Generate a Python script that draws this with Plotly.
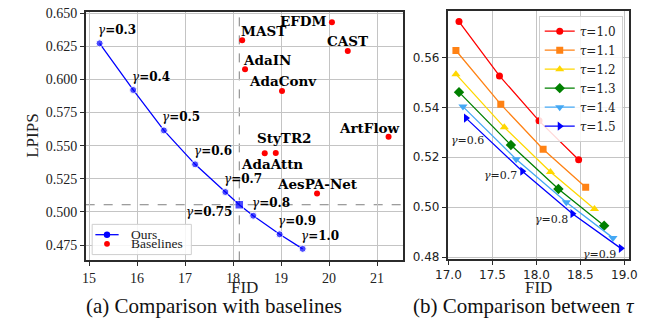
import plotly.graph_objects as go

# ---------------- data ----------------
ours_gamma = [0.3, 0.4, 0.5, 0.6, 0.7, 0.75, 0.8, 0.9, 1.0]
ours_fid = [15.22, 15.92, 16.56, 17.21, 17.84, 18.13, 18.42, 18.97, 19.45]
ours_lpips = [0.6272, 0.5920, 0.5615, 0.5359, 0.5150, 0.5054, 0.4971, 0.4831, 0.4721]
ref_gamma = 0.75

baseline_names = ["MAST", "EFDM", "CAST", "AdaIN", "AdaConv", "ArtFlow", "StyTR2", "AdaAttn", "AesPA-Net"]
baseline_fid = [18.19, 20.06, 20.39, 18.25, 19.02, 21.24, 18.89, 18.66, 19.75]
baseline_lpips = [0.6296, 0.6432, 0.6214, 0.6077, 0.5913, 0.5568, 0.5445, 0.5442, 0.5139]

tau_values = [1.0, 1.1, 1.2, 1.3, 1.4, 1.5]
tau_gamma = [0.6, 0.7, 0.8, 0.9]
fid_tau10 = [17.12, 17.58, 18.03, 18.48]
lpips_tau10 = [0.5744, 0.5526, 0.5346, 0.5190]
fid_tau11 = [17.085, 17.595, 18.076, 18.56]
lpips_tau11 = [0.5628, 0.5412, 0.5232, 0.5080]
fid_tau12 = [17.085, 17.635, 18.16, 18.66]
lpips_tau12 = [0.5533, 0.5320, 0.5141, 0.4993]
fid_tau13 = [17.12, 17.71, 18.25, 18.77]
lpips_tau13 = [0.5461, 0.5249, 0.5073, 0.4926]
fid_tau14 = [17.165, 17.77, 18.34, 18.87]
lpips_tau14 = [0.5403, 0.5192, 0.5020, 0.4877]
fid_tau15 = [17.20, 17.84, 18.41, 18.96]
lpips_tau15 = [0.5357, 0.5144, 0.4974, 0.4835]

left_xticks = [15, 16, 17, 18, 19, 20, 21]
left_yticks = [0.475, 0.500, 0.525, 0.550, 0.575, 0.600, 0.625, 0.650]
right_xticks = [17.0, 17.5, 18.0, 18.5, 19.0]
right_yticks = [0.48, 0.50, 0.52, 0.54, 0.56]

# ---------------- styles / layout helpers ----------------
W, H = 654, 325
def px(x):
    return x / W
def py(y):
    return 1 - y / H

SERIF = "Liberation Serif"
DJS = "DejaVu Serif"
AX_LINE = "#2b2b2b"
GRID = "#c4c4c4"

tau_fids = [fid_tau10, fid_tau11, fid_tau12, fid_tau13, fid_tau14, fid_tau15]
tau_lpips = [lpips_tau10, lpips_tau11, lpips_tau12, lpips_tau13, lpips_tau14, lpips_tau15]
tau_colors = ["#ff0000", "#ff8214", "#ffd700", "#008000", "#44a8f4", "#0000ff"]
tau_symbols = ["circle", "square", "triangle-up", "diamond", "triangle-down", "triangle-right"]
tau_sizes = [7, 7, 8, 8, 8, 8]

# label placement: (xanchor, xshift, yshift)
gamma_label_pos = {0.75: ("right", -5, -7)}
gamma_label_default = ("left", -3.5, 13)
baseline_label_pos = {
    "MAST": ("left", -2.7, 9.5),
    "EFDM": ("right", -2.6, 1),
    "CAST": ("center", -0.5, 10),
    "AdaIN": ("left", -4.3, 9.5),
    "AdaConv": ("center", 0.5, 9.5),
    "ArtFlow": ("right", 13.7, 9),
    "StyTR2": ("center", 8.8, 14.5),
    "AdaAttn": ("center", 6.8, -11),
    "AesPA-Net": ("center", 0, 9.5),
}
tau_gamma_label_shift = [(1.2, -22.3), (-21.8, -4.7), (-21.3, -5.7), (-21.6, -5.7)]

fig = go.Figure()

# ---------------- left panel ----------------
ref_idx = ours_gamma.index(ref_gamma)
ref_fid = ours_fid[ref_idx]
ref_lp = ours_lpips[ref_idx]

fig.add_trace(go.Scatter(
    x=ours_fid, y=ours_lpips, mode="lines+markers", name="Ours",
    line=dict(color="#0000ff", width=1.3),
    marker=dict(color="#0000ff", size=[8.5 if g == ref_gamma else 7 for g in ours_gamma],
                symbol=["square" if g == ref_gamma else "circle" for g in ours_gamma]),
    xaxis="x", yaxis="y", showlegend=False,
))
fig.add_trace(go.Scatter(
    x=baseline_fid, y=baseline_lpips, mode="markers", name="Baselines",
    marker=dict(color="#ff0000", size=6),
    xaxis="x", yaxis="y", showlegend=False,
))

annotations = []
for g, fx, fy in zip(ours_gamma, ours_fid, ours_lpips):
    anc, xs, ys = gamma_label_pos.get(g, gamma_label_default)
    annotations.append(dict(
        x=fx, y=fy, xref="x", yref="y",
        text=f"<i>γ</i><b>={g:.1f}</b>" if g != 0.75 else "<i>γ</i><b>=0.75</b>",
        showarrow=False, xanchor=anc, yanchor="middle", xshift=xs, yshift=ys,
        font=dict(family=DJS, size=12, color="black"),
    ))
for name, fx, fy in zip(baseline_names, baseline_fid, baseline_lpips):
    anc, xs, ys = baseline_label_pos[name]
    annotations.append(dict(
        x=fx, y=fy, xref="x", yref="y", text=f"<b>{name}</b>",
        showarrow=False, xanchor=anc, yanchor="middle", xshift=xs, yshift=ys,
        font=dict(family=DJS, size=13.5, color="black"),
    ))

left_top, left_bot, left_l, left_r = 6, 263.3, 76, 403.3
right_top, right_bot, right_l, right_r = 4.7, 261.7, 449.3, 636.7

shapes = [
    dict(type="line", xref="x", yref="paper", x0=ref_fid, x1=ref_fid, y0=py(left_bot), y1=py(left_top),
         line=dict(color="#7f7f7f", width=1, dash="dash"), layer="below"),
    dict(type="line", xref="paper", yref="y", x0=px(left_l), x1=px(left_r), y0=ref_lp, y1=ref_lp,
         line=dict(color="#7f7f7f", width=1, dash="dash"), layer="below"),
]

# compact legend for left panel
lg_x0, lg_x1, lg_y0, lg_y1 = 82.7, 185, 226, 257.3
shapes.append(dict(type="rect", xref="paper", yref="paper",
                   x0=px(lg_x0), x1=px(lg_x1), y0=py(lg_y1), y1=py(lg_y0),
                   fillcolor="rgba(255,255,255,0.85)", line=dict(color="#cfcfcf", width=1), layer="above"))
shapes.append(dict(type="line", xref="paper", yref="paper",
                   x0=px(86), x1=px(110), y0=py(236.7), y1=py(236.7),
                   line=dict(color="#0000ff", width=1.3), layer="above"))
for cy, col in [(236.7, "#0000ff"), (246.2, "#ff0000")]:
    r = 3.3 if col == "#0000ff" else 3.0
    shapes.append(dict(type="circle", xref="paper", yref="paper",
                       x0=px(98 - r), x1=px(98 + r), y0=py(cy + r), y1=py(cy - r),
                       fillcolor=col, line=dict(color=col, width=0), layer="above"))
for txt, cy in [("Ours", 236.7), ("Baselines", 246.2)]:
    annotations.append(dict(x=px(121), y=py(cy), xref="paper", yref="paper", text=txt,
                            showarrow=False, xanchor="left", yanchor="middle",
                            font=dict(family=SERIF, size=13.5, color="#222")))

# ---------------- right panel ----------------
for t, fx, fy, col, sym, sz in zip(tau_values, tau_fids, tau_lpips, tau_colors, tau_symbols, tau_sizes):
    fig.add_trace(go.Scatter(
        x=fx, y=fy, mode="lines+markers", name=f"<i>τ</i>={t:.1f}",
        line=dict(color=col, width=1.3),
        marker=dict(color=col, size=sz, symbol=sym),
        xaxis="x2", yaxis="y2",
    ))
for g, fx, fy, (xs, ys) in zip(tau_gamma, fid_tau15, lpips_tau15, tau_gamma_label_shift):
    annotations.append(dict(
        x=fx, y=fy, xref="x2", yref="y2", text=f"<i>γ</i>={g:g}",
        showarrow=False, xanchor="center", yanchor="middle", xshift=xs, yshift=ys,
        font=dict(family=DJS, size=11, color="#222"),
    ))

# axis titles and captions
annotations += [
    dict(x=px(240), y=py(291.5), xref="paper", yref="paper", text="FID", showarrow=False,
         xanchor="center", yanchor="middle", font=dict(family=SERIF, size=17, color="#222")),
    dict(x=px(543), y=py(291.5), xref="paper", yref="paper", text="FID", showarrow=False,
         xanchor="center", yanchor="middle", font=dict(family=SERIF, size=17, color="#222")),
    dict(x=px(21.5), y=py(134.5), xref="paper", yref="paper", text="LPIPS", showarrow=False,
         textangle=-90, xanchor="center", yanchor="middle", font=dict(family=SERIF, size=17, color="#222")),
    dict(x=px(208.5), y=py(311), xref="paper", yref="paper", text="(a) Comparison with baselines",
         showarrow=False, xanchor="center", yanchor="middle", font=dict(family=SERIF, size=21, color="#111")),
    dict(x=px(528.5), y=py(311), xref="paper", yref="paper", text="(b) Comparison between <i>τ</i>",
         showarrow=False, xanchor="center", yanchor="middle", font=dict(family=SERIF, size=21, color="#111")),
]

axis_common = dict(showline=True, mirror=True, linecolor=AX_LINE, linewidth=1.5,
                   showgrid=True, gridcolor=GRID, gridwidth=1, zeroline=False,
                   ticks="outside", ticklen=4, tickcolor=AX_LINE, tickwidth=1)

fig.update_layout(
    width=W, height=H, autosize=False,
    margin=dict(l=0, r=0, t=0, b=0),
    paper_bgcolor="white", plot_bgcolor="white",
    xaxis=dict(domain=[px(left_l), px(left_r)], range=[14.93, 21.54], tickvals=left_xticks,
               ticktext=[str(v) for v in left_xticks], anchor="y",
               tickfont=dict(family=SERIF, size=14, color="#222"), **axis_common),
    yaxis=dict(domain=[py(left_bot), py(left_top)], range=[0.4634, 0.651], tickvals=left_yticks,
               ticktext=[f"{v:.3f}" for v in left_yticks], anchor="x",
               tickfont=dict(family=SERIF, size=14, color="#222"), **axis_common),
    xaxis2=dict(domain=[px(right_l), px(right_r)], range=[16.99, 19.055], tickvals=right_xticks,
                ticktext=[f"{v:.1f}" for v in right_xticks], anchor="y2",
                tickfont=dict(family="DejaVu Sans", size=12, color="#222"), **axis_common),
    yaxis2=dict(domain=[py(right_bot), py(right_top)], range=[0.4793, 0.5788], tickvals=right_yticks,
                ticktext=[f"{v:.2f}" for v in right_yticks], anchor="x2",
                tickfont=dict(family="DejaVu Sans", size=12, color="#222"), **axis_common),
    legend=dict(x=px(630), y=py(10), xanchor="right", yanchor="top",
                bgcolor="rgba(255,255,255,0.85)", bordercolor="#cfcfcf", borderwidth=1,
                font=dict(family=DJS, size=12, color="#222"), itemwidth=30,
                tracegroupgap=0),
    annotations=annotations,
    shapes=shapes,
)

fig.write_html("out.html", config={"displayModeBar": False},
               post_script="document.body.style.margin='0';document.body.style.overflow='hidden';")
